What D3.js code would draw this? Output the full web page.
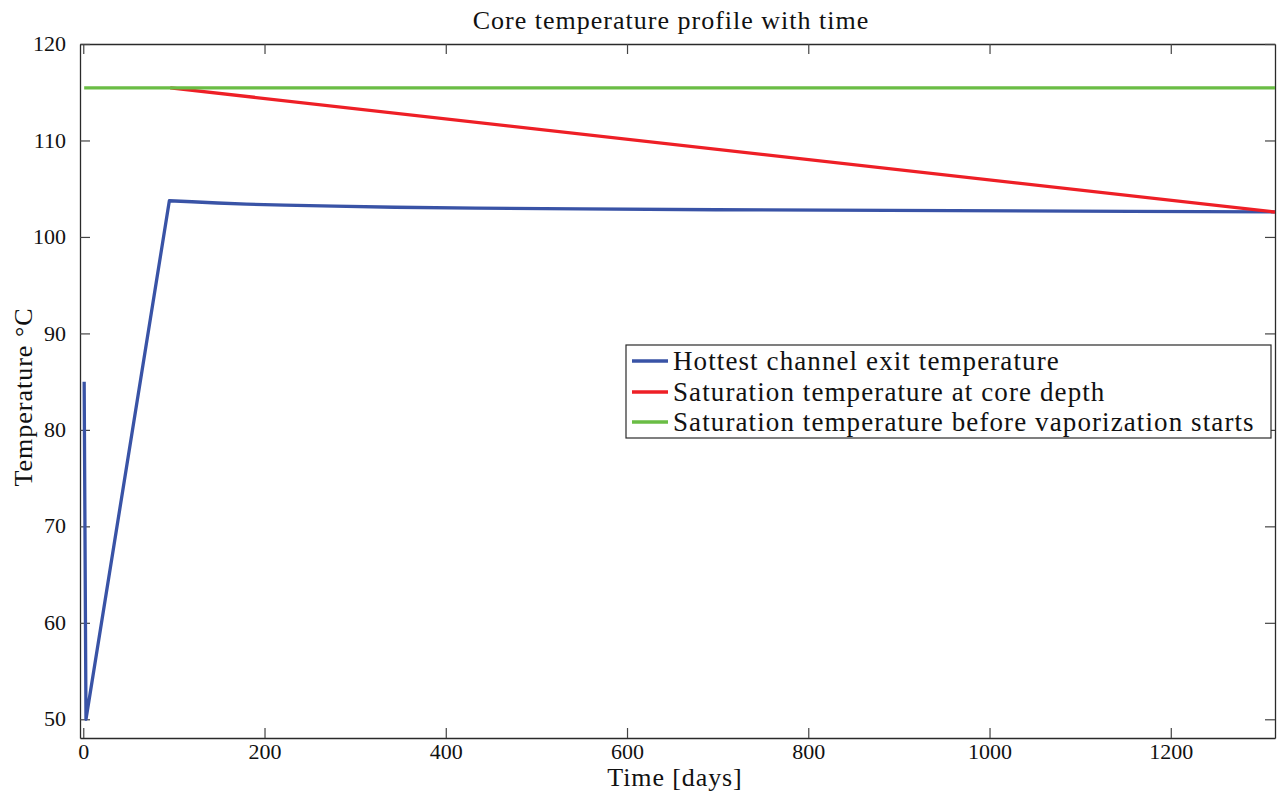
<!DOCTYPE html>
<html lang="en">
<head>
    <meta charset="UTF-8">
    <title>Core temperature profile with time</title>
    <script src="https://d3js.org/d3.v7.min.js"></script>
    <style>
        body { margin: 0; background: #fff; }
    </style>
</head>
<body>
    <div id="chart"></div>
    <script>
        // Series
        const hotDays  = [1, 3, 95, 120, 148, 180, 222, 277, 344, 433, 548, 698, 888, 1156, 1315];
        const hotTemp  = [85, 50, 103.75, 103.65, 103.52, 103.4, 103.3, 103.2, 103.08, 102.98, 102.9, 102.82, 102.75, 102.65, 102.6];
        const satDays  = [96, 1315];
        const satTemp  = [115.45, 102.58];
        const preDays  = [1, 1315];
        const preTemp  = [115.45, 115.45];

        const xTicks = [0, 200, 400, 600, 800, 1000, 1200];
        const yTicks = [50, 60, 70, 80, 90, 100, 110, 120];

        const seriesNames  = ["Hottest channel exit temperature",
                              "Saturation temperature at core depth",
                              "Saturation temperature before vaporization starts"];
        const seriesColors = ["#3953a6", "#ee1f26", "#6abd45"];

        const FONT = "'Liberation Serif', 'DejaVu Serif', serif";

        const W = 1278, H = 792;
        const svg = d3.select("#chart").append("svg")
            .attr("width", W)
            .attr("height", H)
            .style("font-family", FONT);

        const plot = {left: 80, right: 1275, top: 44, bottom: 738};

        const x = d3.scaleLinear().domain([-3.6, 1315]).range([plot.left, plot.right]);
        const y = d3.scaleLinear().domain([48.06, 120]).range([plot.bottom, plot.top]);

        // Axes (ticks pointing inward on all four sides)
        svg.append("g")
            .attr("transform", `translate(0,${plot.bottom})`)
            .call(d3.axisBottom(x).tickValues(xTicks).tickFormat(d3.format("d"))
                .tickSize(-10).tickSizeOuter(0).tickPadding(17))
            .call(g => g.selectAll("text").attr("dy", "0.2em"));
        svg.append("g")
            .attr("transform", `translate(0,${plot.top})`)
            .call(d3.axisTop(x).tickValues(xTicks).tickSize(-10).tickSizeOuter(0).tickFormat(""));
        svg.append("g")
            .attr("transform", `translate(${plot.left},0)`)
            .call(d3.axisLeft(y).tickValues(yTicks).tickFormat(d3.format("d"))
                .tickSize(-10).tickSizeOuter(0).tickPadding(14))
            .call(g => g.selectAll("text").attr("dy", "0.3em"));
        svg.append("g")
            .attr("transform", `translate(${plot.right},0)`)
            .call(d3.axisRight(y).tickValues(yTicks).tickSize(-10).tickSizeOuter(0).tickFormat(""));

        svg.selectAll(".tick text")
            .attr("font-family", FONT)
            .style("font-family", FONT)
            .style("font-size", "22px")
            .attr("fill", "#111");
        svg.selectAll(".domain").attr("stroke", "#2a2a2a").attr("stroke-width", 1.3);
        svg.selectAll(".tick line").attr("stroke", "#444").attr("stroke-width", 1.2);

        // Lines
        const line = d3.line().x(d => x(d[0])).y(d => y(d[1]));
        const series = [
            d3.zip(hotDays, hotTemp),
            d3.zip(satDays, satTemp),
            d3.zip(preDays, preTemp)
        ];
        series.forEach((s, i) => {
            svg.append("path")
                .datum(s)
                .attr("fill", "none")
                .attr("stroke", seriesColors[i])
                .attr("stroke-width", 3.3)
                .attr("stroke-linejoin", "round")
                .attr("d", line);
        });

        // Title and axis labels
        const label = (sel, size, spacing) => sel
            .style("font-family", FONT)
            .style("font-size", size)
            .style("letter-spacing", spacing)
            .attr("fill", "#111");

        svg.append("text")
            .attr("x", 671).attr("y", 29)
            .attr("text-anchor", "middle")
            .call(label, "26px", "1px")
            .text("Core temperature profile with time");

        svg.append("text")
            .attr("x", 675).attr("y", 786)
            .attr("text-anchor", "middle")
            .call(label, "26px", "0.9px")
            .text("Time [days]");

        svg.append("text")
            .attr("transform", "translate(32,397) rotate(-90)")
            .attr("text-anchor", "middle")
            .call(label, "26px", "1px")
            .text("Temperature °C");

        // Legend
        const legend = svg.append("g");
        legend.append("rect")
            .attr("x", 626).attr("y", 345)
            .attr("width", 645).attr("height", 93)
            .attr("fill", "#fff")
            .attr("stroke", "#2a2a2a")
            .attr("stroke-width", 1.2);
        const rowY = [361, 392, 422];
        seriesNames.forEach((name, i) => {
            legend.append("line")
                .attr("x1", 632).attr("x2", 668)
                .attr("y1", rowY[i]).attr("y2", rowY[i])
                .attr("stroke", seriesColors[i])
                .attr("stroke-width", 3.3);
            legend.append("text")
                .attr("x", 673).attr("y", rowY[i] + 9)
                .call(label, "27px", "1.1px")
                .text(name);
        });
    </script>
</body>
</html>
